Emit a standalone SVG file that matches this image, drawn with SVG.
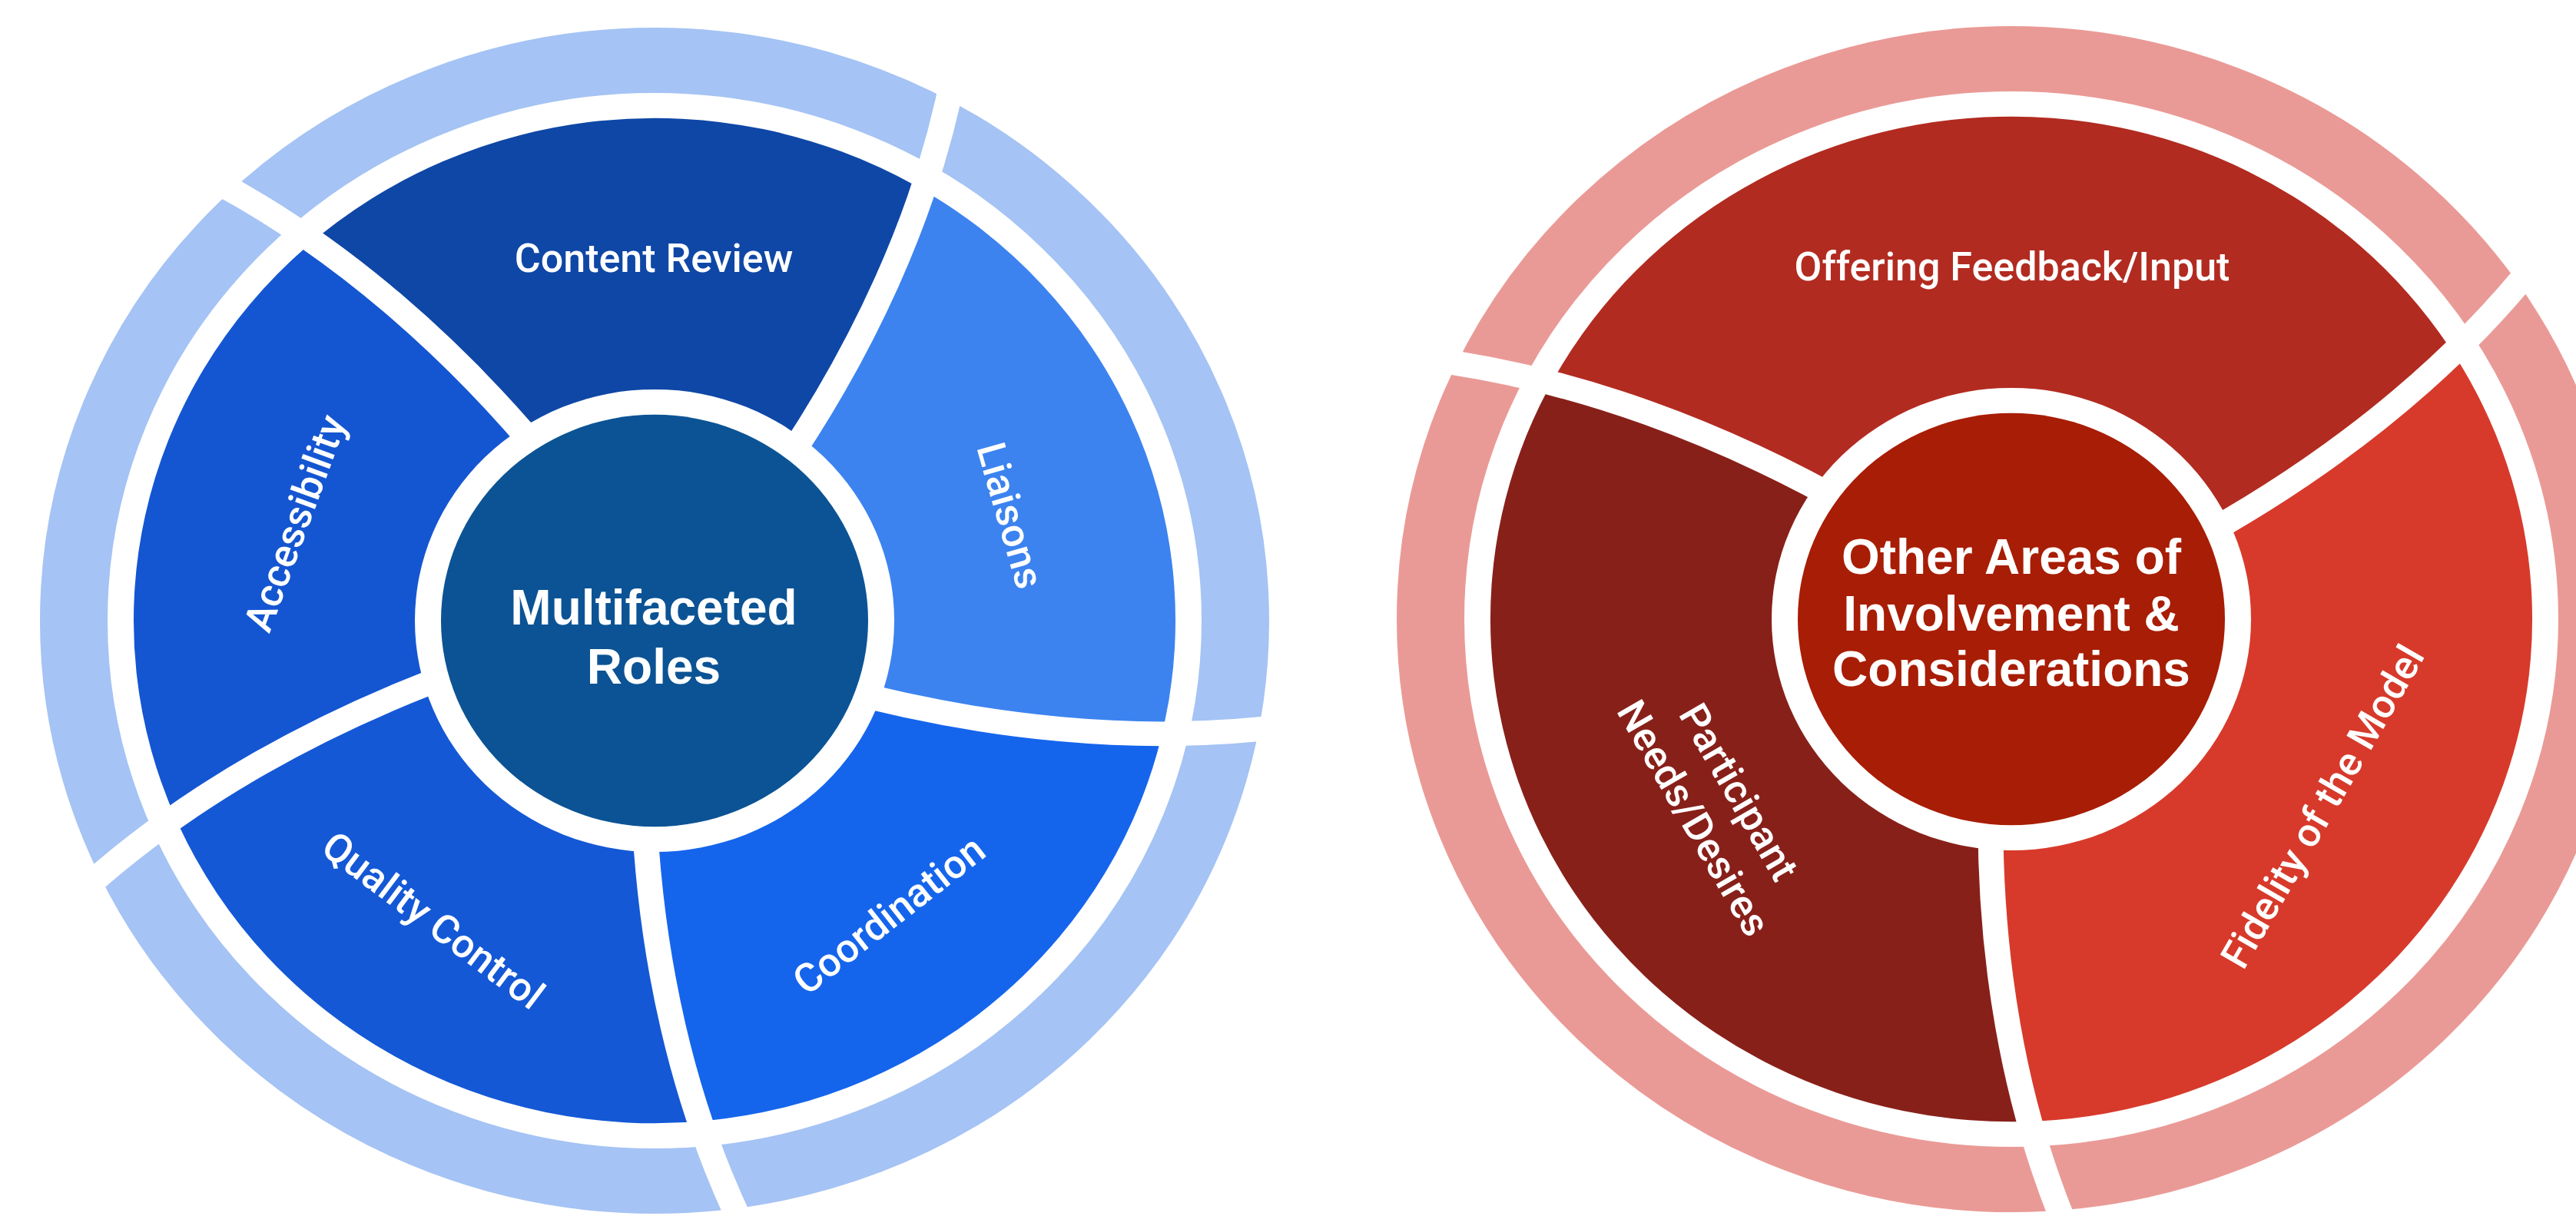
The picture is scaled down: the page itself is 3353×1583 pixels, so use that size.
<svg xmlns="http://www.w3.org/2000/svg" width="3353" height="1583" viewBox="0 0 3353 1583">
<style>
 .ring{fill:none;stroke-width:88}
 .sep{fill:none;stroke:#ffffff;stroke-width:33}
 .lbl{font-family:Roboto,"Liberation Sans",sans-serif;font-size:52px;font-weight:500;fill:#ffffff;text-anchor:middle}
 .ctr{font-family:"Liberation Sans",Arial,sans-serif;font-weight:bold;font-size:64px;fill:#ffffff;text-anchor:middle}
</style>
<defs>
 <path id="seg72" d="M0,0 L315,0 L419.7,-16.9 L518.4,-40.8 L615.8,-72.3 L671.5,-93.9 A678,678 0 0 1 296.8,609.6 L259.1,563.3 L199.0,480.4 L145.7,393.9 L97.3,299.6 Z"/>
 <path id="seg120" d="M0,0 L315,0 L419.7,-16.9 L518.4,-40.8 L615.8,-72.3 L671.5,-93.9 A678,678 0 0 1 -254.4,628.5 L-245.2,569.4 L-223.9,469.3 L-195.2,371.9 L-157.5,272.8 Z"/>
 <path id="sp" d="M249.9,5.2 C448.3,-9.7 650.5,-57.4 826.5,-150.2"/>
</defs>
<rect width="3353" height="1583" fill="#ffffff"/>

<!-- LEFT DIAGRAM -->
<g id="left-diagram">
 <g id="left-outer-ring"><circle class="ring" r="756" stroke="#A5C3F4" transform="translate(852,808) scale(1,0.965)"/></g>
 <g id="content-review">
  <use href="#seg72" fill="#0F47A6" transform="translate(852,808) scale(1,0.965) rotate(236)"/>
  <text class="lbl" x="851" y="354">Content Review</text>
 </g>
 <g id="liaisons">
  <use href="#seg72" fill="#3C83F0" transform="translate(852,808) scale(1,0.965) rotate(-52)"/>
  <text class="lbl" transform="translate(1315,671) rotate(74)" y="18">Liaisons</text>
 </g>
 <g id="coordination">
  <use href="#seg72" fill="#1565EC" transform="translate(852,808) scale(1,0.965) rotate(20)"/>
  <text class="lbl" transform="translate(1157,1191) rotate(-38)" y="18">Coordination</text>
 </g>
 <g id="quality-control">
  <use href="#seg72" fill="#1458D6" transform="translate(852,808) scale(1,0.965) rotate(92)"/>
  <text class="lbl" transform="translate(564,1198) rotate(37)" y="18">Quality Control</text>
 </g>
 <g id="accessibility">
  <use href="#seg72" fill="#1456D2" transform="translate(852,808) scale(1,0.965) rotate(164)"/>
  <text class="lbl" transform="translate(384,681) rotate(-70)" y="18">Accessibility</text>
 </g>
 <g id="left-separators" transform="translate(852,808) scale(1,0.965)">
  <use href="#sp" class="sep" transform="rotate(-52)"/>
  <use href="#sp" class="sep" transform="rotate(20)"/>
  <use href="#sp" class="sep" transform="rotate(92)"/>
  <use href="#sp" class="sep" transform="rotate(164)"/>
  <use href="#sp" class="sep" transform="rotate(236)"/>
 </g>
 <g id="multifaceted-roles">
  <circle r="312" fill="#ffffff" transform="translate(852,808) scale(1,0.965)"/>
  <circle r="278" fill="#0B5394" transform="translate(852,808) scale(1,0.965)"/>
  <text class="ctr" x="851" y="813">Multifaceted</text>
  <text class="ctr" x="851" y="890">Roles</text>
 </g>
</g>

<!-- RIGHT DIAGRAM -->
<g id="right-diagram">
 <g id="right-outer-ring"><circle class="ring" r="756" stroke="#EA9A96" transform="translate(2618,806) scale(1,0.965)"/></g>
 <g id="offering-feedback">
  <use href="#seg120" fill="#B22B20" transform="translate(2618,806) scale(1,0.965) rotate(215)"/>
  <text class="lbl" x="2619" y="365">Offering Feedback/Input</text>
 </g>
 <g id="fidelity-of-the-model">
  <use href="#seg120" fill="#D73A2B" transform="translate(2618,806) scale(1,0.965) rotate(-25)"/>
  <text class="lbl" transform="translate(3023,1050) rotate(-60)" y="18">Fidelity of the Model</text>
 </g>
 <g id="participant-needs">
  <use href="#seg120" fill="#88201A" transform="translate(2618,806) scale(1,0.965) rotate(95)"/>
  <text class="lbl" transform="translate(2234,1048) rotate(60)"><tspan x="0" y="-16">Participant</tspan><tspan x="0" y="52">Needs/Desires</tspan></text>
 </g>
 <g id="right-separators" transform="translate(2618,806) scale(1,0.965)">
  <use href="#sp" class="sep" transform="rotate(-25)"/>
  <use href="#sp" class="sep" transform="rotate(95)"/>
  <use href="#sp" class="sep" transform="rotate(215)"/>
 </g>
 <g id="other-areas">
  <circle r="312" fill="#ffffff" transform="translate(2618,806) scale(1,0.965)"/>
  <circle r="278" fill="#A81D05" transform="translate(2618,806) scale(1,0.965)"/>
  <text class="ctr" x="2618" y="747">Other Areas of</text>
  <text class="ctr" x="2618" y="821">Involvement &amp;</text>
  <text class="ctr" x="2618" y="893">Considerations</text>
 </g>
</g>
</svg>
